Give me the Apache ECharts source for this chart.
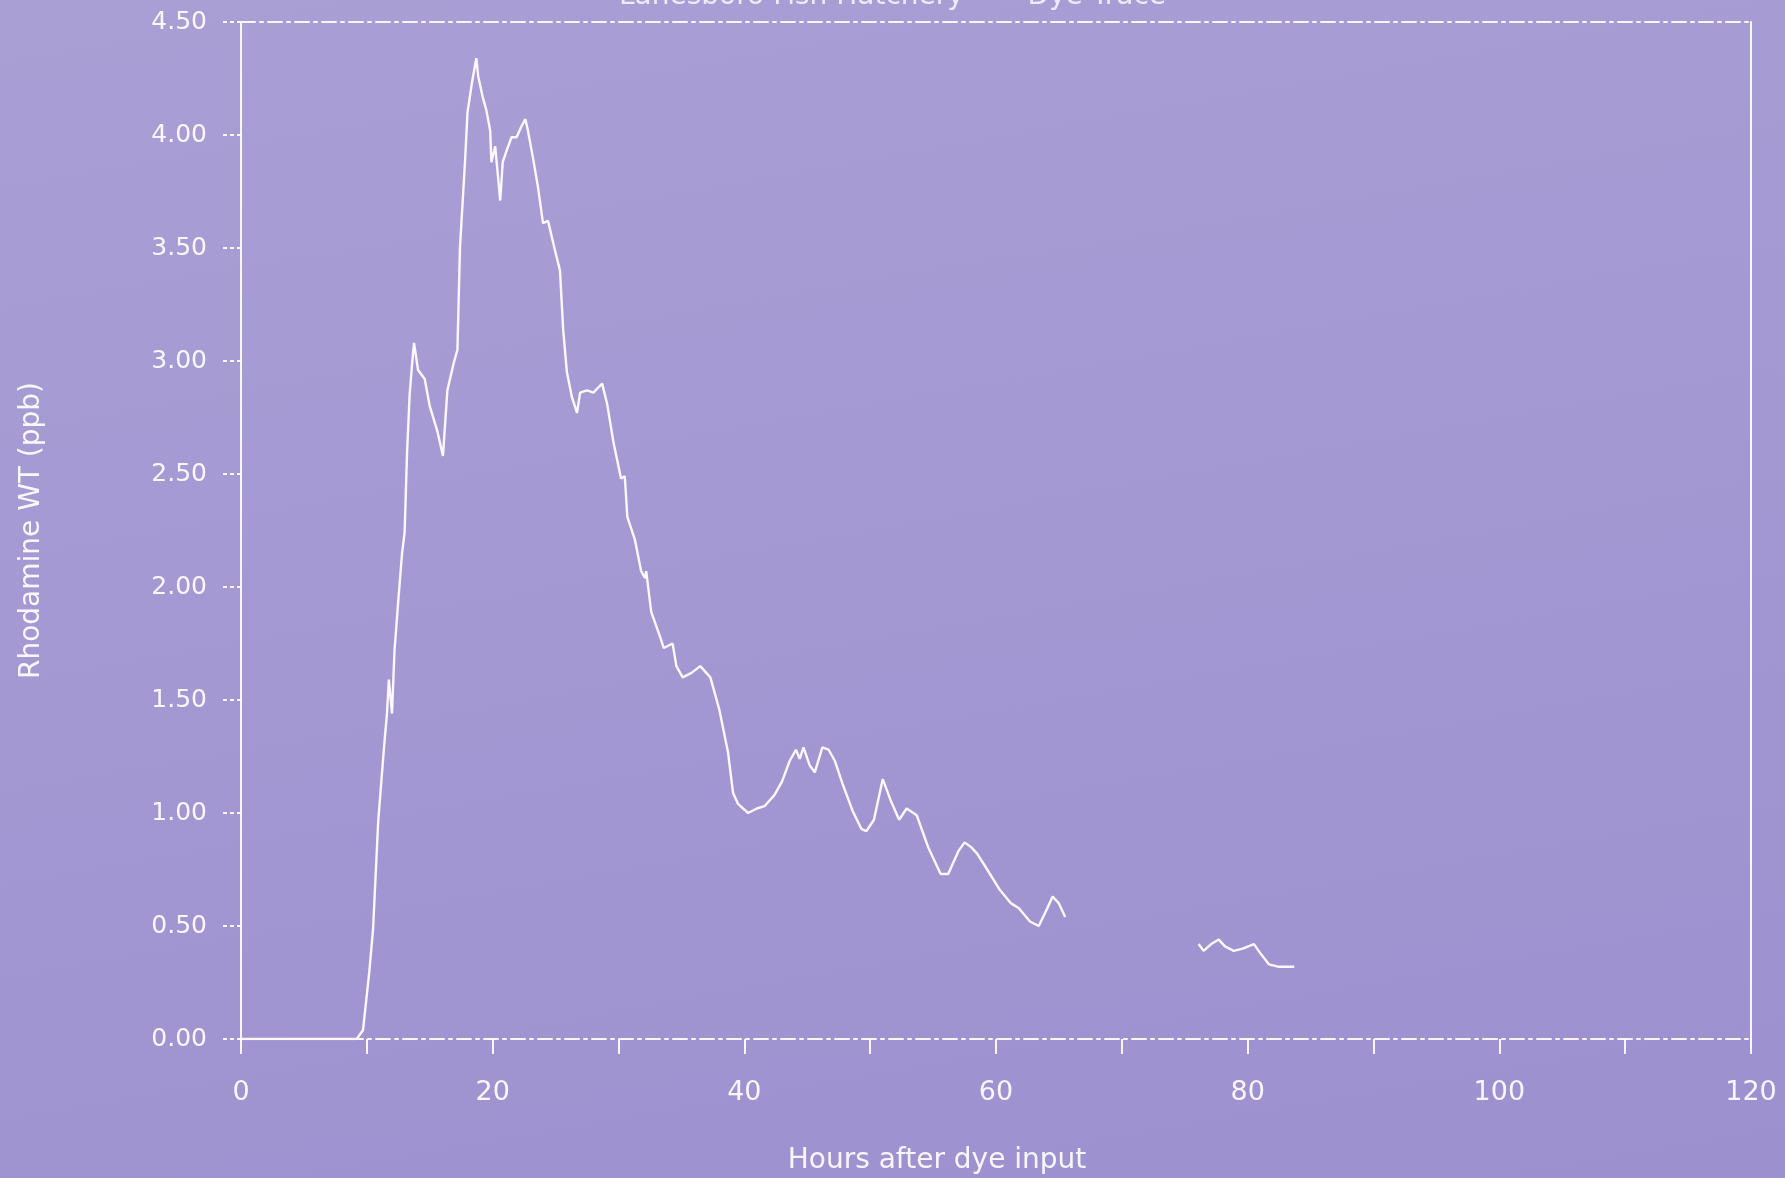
<!DOCTYPE html>
<html>
<head>
<meta charset="utf-8">
<style>
html,body{margin:0;padding:0;}
#chart{width:1785px;height:1178px;background:linear-gradient(170deg,#a99fd5 0%,#a398d2 50%,#9c90cf 100%);}
</style>
<script src="https://cdn.jsdelivr.net/npm/echarts@6/dist/echarts.min.js"></script>
</head>
<body>
<div id="chart"></div>
<script>
const titleText = 'Lanesboro Fish Hatchery  —  Dye Trace';
const xAxisName = 'Hours after dye input';
const yAxisName = 'Rhodamine WT (ppb)';
const xTicks = [0, 20, 40, 60, 80, 100, 120];
const yTicks = ['0.00','0.50','1.00','1.50','2.00','2.50','3.00','3.50','4.00','4.50'];

// hours after dye input
const hours = [
  0, 3, 6, 9.2, 9.7, 10.2, 10.5, 10.9, 11.35, 11.6, 11.75, 12.0, 12.2, 12.5, 12.8, 13.0, 13.2, 13.4, 13.6, 13.75,
  14.07, 14.6, 15.0, 15.6, 16.05, 16.4, 16.9, 17.2, 17.4, 17.8, 18.0, 18.35, 18.7, 18.85, 19.2, 19.5, 19.8, 19.9,
  20.2, 20.4, 20.6, 20.8, 21.1, 21.5, 21.9, 22.3, 22.6, 22.8, 23.2, 23.6, 24.0, 24.4, 24.95, 25.35, 25.6, 25.9,
  26.3, 26.7, 26.95, 27.5, 28.0, 28.7, 29.1, 29.6, 30.2, 30.5, 30.7, 31.3, 31.8, 32.1, 32.2, 32.6, 33.3, 33.6,
  34.3, 34.6, 35.1, 35.8, 36.5, 37.3, 38.0, 38.7, 39.1, 39.5, 40.3, 41.0, 41.6, 42.4, 43.0, 43.6, 44.1, 44.4,
  44.7, 45.2, 45.6, 46.2, 46.7, 47.2, 47.8, 48.6, 49.3, 49.7, 50.3, 51.0, 51.6, 52.3, 52.9, 53.7, 54.6, 55.6,
  56.2, 57.0, 57.5, 58.0, 58.5, 59.3, 60.3, 61.2, 61.8, 62.7, 63.4, 64.0, 64.5, 65.0, 65.5,
  70,
  76.1, 76.5, 77.1, 77.7, 78.2, 78.9, 79.6, 80.5, 81.0, 81.7, 82.4, 83.7
];
// Rhodamine WT concentration (ppb); null = gap in record
const ppb = [
  0, 0, 0, 0, 0.04, 0.30, 0.49, 0.96, 1.28, 1.44, 1.59, 1.44, 1.72, 1.94, 2.15, 2.24, 2.60, 2.85, 2.99, 3.08,
  2.96, 2.92, 2.80, 2.69, 2.58, 2.87, 2.99, 3.05, 3.50, 3.88, 4.10, 4.23, 4.34, 4.26, 4.17, 4.11, 4.02, 3.88,
  3.95, 3.83, 3.71, 3.88, 3.93, 3.99, 3.99, 4.04, 4.07, 4.02, 3.90, 3.77, 3.61, 3.62, 3.49, 3.40, 3.14, 2.95,
  2.84, 2.77, 2.86, 2.87, 2.86, 2.90, 2.81, 2.64, 2.48, 2.49, 2.31, 2.21, 2.07, 2.04, 2.07, 1.89, 1.78, 1.73,
  1.75, 1.65, 1.60, 1.62, 1.65, 1.60, 1.46, 1.27, 1.09, 1.04, 1.00, 1.02, 1.03, 1.08, 1.14, 1.23, 1.28, 1.24,
  1.29, 1.21, 1.18, 1.29, 1.28, 1.23, 1.13, 1.01, 0.93, 0.92, 0.97, 1.15, 1.06, 0.97, 1.02, 0.99, 0.85, 0.73,
  0.73, 0.83, 0.87, 0.85, 0.82, 0.75, 0.66, 0.60, 0.58, 0.52, 0.50, 0.57, 0.63, 0.60, 0.54,
  null,
  0.42, 0.39, 0.42, 0.44, 0.41, 0.39, 0.40, 0.42, 0.38, 0.33, 0.32, 0.32
];

const seriesData = hours.map((h, i) => [h, ppb[i]]);
const fg = 'rgba(255,255,255,0.92)';
const font = 'DejaVu Sans';

const chart = echarts.init(document.getElementById('chart'), null, {renderer: 'canvas'});
chart.setOption({
  backgroundColor: 'transparent',
  animation: false,
  title: {
    text: titleText, left: 'center', top: -22,
    textStyle: {color: 'rgba(255,255,255,0.8)', fontFamily: font, fontSize: 28, fontWeight: 'normal'}
  },
  grid: {left: 241, right: 34, top: 22, bottom: 139, containLabel: false, outerBoundsMode: 'none'},
  xAxis: [{
    type: 'value', min: 0, max: 120, interval: 10, position: 'bottom',
    name: xAxisName, nameLocation: 'middle', nameGap: 108,
    nameTextStyle: {color: fg, fontFamily: font, fontSize: 28, padding: [0, 118, 0, 0]},
    axisLine: {show: true, onZero: false, lineStyle: {color: fg, width: 2, type: [14, 5, 3, 5]}},
    axisTick: {show: true, inside: false, length: 15, lineStyle: {color: fg, width: 2}},
    axisLabel: {
      color: fg, fontFamily: font, fontSize: 27, margin: 40,
      formatter: v => (xTicks.indexOf(v) >= 0 ? String(v) : '')
    },
    splitLine: {show: false}
  }, {
    type: 'value', min: 0, max: 120, position: 'top',
    axisLine: {show: true, onZero: false, lineStyle: {color: fg, width: 2, type: [14, 5, 3, 5]}},
    axisTick: {show: false}, axisLabel: {show: false}, splitLine: {show: false}
  }],
  yAxis: [{
    type: 'value', min: 0, max: 4.5, interval: 0.5, position: 'left',
    name: yAxisName, nameLocation: 'middle', nameGap: 195, nameRotate: 90,
    nameTextStyle: {color: fg, fontFamily: font, fontSize: 28},
    axisLine: {show: true, onZero: false, lineStyle: {color: fg, width: 2}},
    axisTick: {show: true, length: 20, lineStyle: {color: fg, width: 2, type: [4, 3]}},
    axisLabel: {
      color: fg, fontFamily: font, fontSize: 25, margin: 34,
      formatter: v => yTicks[Math.round(v / 0.5)]
    },
    splitLine: {show: false}
  }, {
    type: 'value', min: 0, max: 4.5, position: 'right',
    axisLine: {show: true, onZero: false, lineStyle: {color: fg, width: 2}},
    axisTick: {show: false}, axisLabel: {show: false}, splitLine: {show: false}
  }],
  series: [{
    type: 'line', xAxisIndex: 0, yAxisIndex: 0,
    data: seriesData, showSymbol: false, connectNulls: false,
    lineStyle: {color: '#fbf8ff', width: 2.4},
    z: 5
  }]
});
</script>
</body>
</html>
